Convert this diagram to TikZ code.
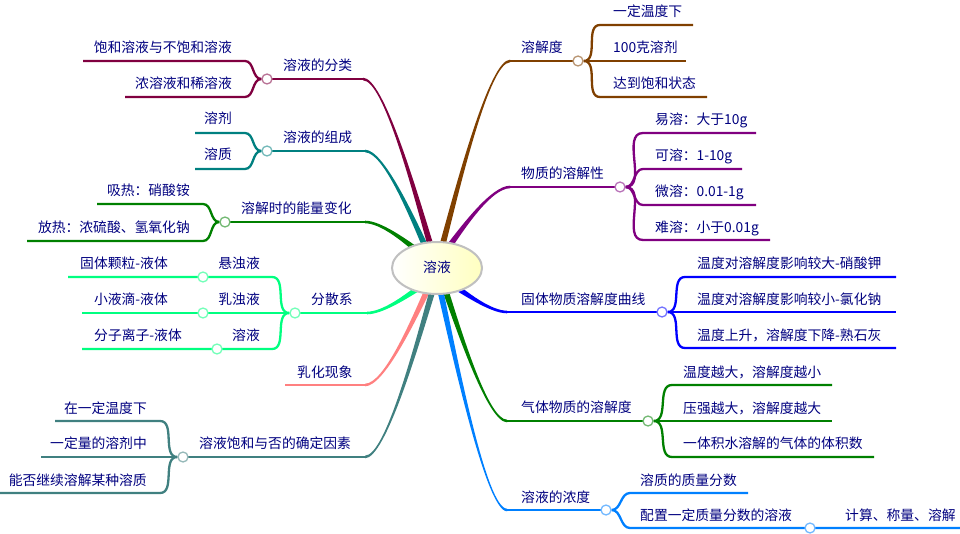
\documentclass[tikz,border=0pt]{standalone}
\usepackage{fontspec}
\usetikzlibrary{calc,shapes.geometric}
\newfontfamily\cjk{Noto Sans CJK SC}
\definecolor{cNavy}{RGB}{0,0,128}
\definecolor{cMaroon}{RGB}{128,0,64}
\definecolor{cTeal}{RGB}{0,128,128}
\definecolor{cGreen}{RGB}{0,128,0}
\definecolor{cSpring}{RGB}{0,255,128}
\definecolor{cSalmon}{RGB}{255,128,128}
\definecolor{cTealGray}{RGB}{64,128,128}
\definecolor{cBrown}{RGB}{128,64,0}
\definecolor{cPurple}{RGB}{128,0,128}
\definecolor{cBlue}{RGB}{0,0,255}
\definecolor{cSky}{RGB}{0,128,255}
\definecolor{cRootBorder}{RGB}{192,192,192}
\definecolor{cRootFill}{RGB}{255,255,192}
\pgfdeclarelayer{bg}
\pgfsetlayers{bg,main}
\tikzset{
  txt/.style={font=\cjk\fontsize{13.8}{16}\selectfont, text=cNavy, inner sep=0pt, text height=12pt, text depth=2pt},
  knob/.style={circle, minimum size=10pt, inner sep=0pt, fill=white, draw=#1!55!white, line width=1.3pt},
  mainline/.style={draw=#1, line width=2.6pt},
  subline/.style={draw=#1, line width=2.3pt},
}
\newcommand\mmcurve[3]{%
  \path let \p1=(#1), \p2=(#2) in
    ({\x1+0.25*(\x2-\x1)},{\y1+0.35*(\y2-\y1)}) coordinate (#1c)
    ({\x2+0.3*(\x1-\x2)},{\y2}) coordinate (#2c);
  \fill[#3] ($(#1)!3pt!90:(#1c)$) .. controls ($(#1c)!2pt!-90:(#1)$) and ($(#2c)!1.3pt!90:(#2)$) .. ($(#2)!1.3pt!-90:(#2c)$)
    -- ($(#2)!1.3pt!90:(#2c)$) .. controls ($(#2c)!1.3pt!-90:(#2)$) and ($(#1c)!2pt!90:(#1)$) .. ($(#1)!3pt!-90:(#1c)$) -- cycle;
}
\begin{document}
\begin{tikzpicture}[x=1pt,y=-1pt]
\useasboundingbox (0,0) rectangle (960,534);
% root
\node[ellipse, minimum width=90pt, minimum height=52pt, draw=cRootBorder, line width=2pt, left color=white, right color=cRootFill, txt] (root) at (437,268) {溶液};

% ---------- left side ----------
% 1 溶液的分类
\node[knob=cMaroon] (k1) at (267,79) {};
\node[txt, anchor=west] (n1) at (283,66) {溶液的分类};
\node[txt, anchor=east] (n1a) at (232,48) {饱和溶液与不饱和溶液};
\node[txt, anchor=east] (n1b) at (232,84) {浓溶液和稀溶液};
\coordinate (s1) at (431,247); \coordinate (e1) at (363,79);
\coordinate (a1) at (245,61); \coordinate (a1e) at (83,61);
\coordinate (b1) at (245,97); \coordinate (b1e) at (125,97);
% 2 溶液的组成
\node[knob=cTeal] (k2) at (267,151) {};
\node[txt, anchor=west] (n2) at (283,138) {溶液的组成};
\node[txt, anchor=east] (n2a) at (232,119) {溶剂};
\node[txt, anchor=east] (n2b) at (232,155) {溶质};
\coordinate (s2) at (426,248); \coordinate (e2) at (365,151);
\coordinate (a2) at (245,133); \coordinate (a2e) at (195,133);
\coordinate (b2) at (245,169); \coordinate (b2e) at (195,169);
% 3 溶解时的能量变化
\node[knob=cGreen] (k3) at (225,222) {};
\node[txt, anchor=west] (n3) at (241,209) {溶解时的能量变化};
\node[txt, anchor=east] (n3a) at (190,191) {吸热：硝酸铵};
\node[txt, anchor=east] (n3b) at (190,228) {放热：浓硫酸、氢氧化钠};
\coordinate (s3) at (418,251); \coordinate (e3) at (365,222);
\coordinate (a3) at (203,204); \coordinate (a3e) at (97,204);
\coordinate (b3) at (203,241); \coordinate (b3e) at (27,241);
% 4 分散系
\node[knob=cSpring] (k4) at (295,313) {};
\node[txt, anchor=west] (n4) at (311,300) {分散系};
\node[knob=cSpring] (k4a) at (203,277) {};
\node[knob=cSpring] (k4b) at (203,313) {};
\node[knob=cSpring] (k4c) at (217,349) {};
\node[txt, anchor=east] (n4a) at (260,264) {悬浊液};
\node[txt, anchor=east] (n4b) at (260,300) {乳浊液};
\node[txt, anchor=east] (n4c) at (260,335) {溶液};
\node[txt, anchor=east] (n4aa) at (168,264) {固体颗粒-液体};
\node[txt, anchor=east] (n4bb) at (168,300) {小液滴-液体};
\node[txt, anchor=east] (n4cc) at (182,335) {分子离子-液体};
\coordinate (s4) at (420,287); \coordinate (e4) at (367,313);
\coordinate (a4) at (272,277); \coordinate (a4e) at (68,277);
\coordinate (b4e) at (82,313);
\coordinate (c4) at (272,349); \coordinate (c4e) at (82,349);
% 5 乳化现象
\node[txt, anchor=west] (n5) at (297,372) {乳化现象};
\coordinate (s5) at (428,289); \coordinate (e5) at (365,385); \coordinate (f5) at (285,385);
% 6 溶液饱和与否的确定因素
\node[knob=cTealGray] (k6) at (183,457) {};
\node[txt, anchor=west] (n6) at (199,443) {溶液饱和与否的确定因素};
\node[txt, anchor=east] (n6a) at (147,408) {在一定温度下};
\node[txt, anchor=east] (n6b) at (147,443) {一定量的溶剂中};
\node[txt, anchor=east] (n6c) at (147,480) {能否继续溶解某种溶质};
\coordinate (s6) at (433,289); \coordinate (e6) at (365,457);
\coordinate (a6) at (160,421); \coordinate (a6e) at (55,421);
\coordinate (b6e) at (41,457);
\coordinate (c6) at (160,493); \coordinate (c6e) at (0,493);

% ---------- right side ----------
% 7 溶解度
\node[knob=cBrown] (k7) at (578,61) {};
\node[txt, anchor=west] (n7) at (521,48) {溶解度};
\node[txt, anchor=west] (n7a) at (613,12) {一定温度下};
\node[txt, anchor=west] (n7b) at (613,48) {100克溶剂};
\node[txt, anchor=west] (n7c) at (613,84) {达到饱和状态};
\coordinate (s7) at (442,247); \coordinate (e7) at (510,61);
\coordinate (a7) at (600,25); \coordinate (a7e) at (693,25);
\coordinate (b7e) at (686,61);
\coordinate (c7) at (600,97); \coordinate (c7e) at (707,97);
% 8 物质的溶解性
\node[knob=cPurple] (k8) at (620,187) {};
\node[txt, anchor=west] (n8) at (521,174) {物质的溶解性};
\node[txt, anchor=west] (n8a) at (655,120) {易溶：大于10g};
\node[txt, anchor=west] (n8b) at (655,156) {可溶：1-10g};
\node[txt, anchor=west] (n8c) at (655,192) {微溶：0.01-1g};
\node[txt, anchor=west] (n8d) at (655,228) {难溶：小于0.01g};
\coordinate (s8) at (448,248); \coordinate (e8) at (510,187);
\coordinate (a8) at (643,133); \coordinate (a8e) at (756,133);
\coordinate (b8) at (643,169); \coordinate (b8e) at (742,169);
\coordinate (c8) at (643,205); \coordinate (c8e) at (756,205);
\coordinate (d8) at (643,240); \coordinate (d8e) at (770,240);
% 9 固体物质溶解度曲线
\node[knob=cBlue] (k9) at (662,312) {};
\node[txt, anchor=west] (n9) at (521,300) {固体物质溶解度曲线};
\node[txt, anchor=west] (n9a) at (697,264) {温度对溶解度影响较大-硝酸钾};
\node[txt, anchor=west] (n9b) at (697,300) {温度对溶解度影响较小-氯化钠};
\node[txt, anchor=west] (n9c) at (697,335) {温度上升，溶解度下降-熟石灰};
\coordinate (s9) at (456,287); \coordinate (e9) at (507,312);
\coordinate (a9) at (685,277); \coordinate (a9e) at (896,277);
\coordinate (b9e) at (896,312);
\coordinate (c9) at (685,348); \coordinate (c9e) at (896,348);
% 10 气体物质的溶解度
\node[knob=cGreen] (k10) at (648,421) {};
\node[txt, anchor=west] (n10) at (521,407) {气体物质的溶解度};
\node[txt, anchor=west] (n10a) at (683,372) {温度越大，溶解度越小};
\node[txt, anchor=west] (n10b) at (683,408) {压强越大，溶解度越大};
\node[txt, anchor=west] (n10c) at (683,443) {一体积水溶解的气体的体积数};
\coordinate (s10) at (445,289); \coordinate (e10) at (507,421);
\coordinate (a10) at (672,385); \coordinate (a10e) at (832,385);
\coordinate (b10e) at (832,421);
\coordinate (c10) at (672,457); \coordinate (c10e) at (874,457);
% 11 溶液的浓度
\node[knob=cSky] (k11) at (606,510) {};
\node[txt, anchor=west] (n11) at (521,497) {溶液的浓度};
\node[txt, anchor=west] (n11a) at (640,480) {溶质的质量分数};
\node[txt, anchor=west] (n11b) at (640,515) {配置一定质量分数的溶液};
\node[knob=cSky] (k11b) at (810,528) {};
\node[txt, anchor=west] (n11bb) at (845,515) {计算、称量、溶解};
\coordinate (s11) at (440,289); \coordinate (e11) at (507,510);
\coordinate (a11) at (630,493); \coordinate (a11e) at (748,493);
\coordinate (b11) at (630,528); \coordinate (b11e) at (960,528);

\begin{pgfonlayer}{bg}
\fill[white] (0,0) rectangle (960,534);
% left
\mmcurve{s1}{e1}{cMaroon}
\draw[mainline=cMaroon] (e1) -- (k1.center);
\draw[subline=cMaroon] (k1.west) to[out=180,in=0] (a1) -- (a1e);
\draw[subline=cMaroon] (k1.west) to[out=180,in=0] (b1) -- (b1e);

\mmcurve{s2}{e2}{cTeal}
\draw[mainline=cTeal] (e2) -- (k2.center);
\draw[subline=cTeal] (k2.west) to[out=180,in=0] (a2) -- (a2e);
\draw[subline=cTeal] (k2.west) to[out=180,in=0] (b2) -- (b2e);

\mmcurve{s3}{e3}{cGreen}
\draw[mainline=cGreen] (e3) -- (k3.center);
\draw[subline=cGreen] (k3.west) to[out=180,in=0] (a3) -- (a3e);
\draw[subline=cGreen] (k3.west) to[out=180,in=0] (b3) -- (b3e);

\mmcurve{s4}{e4}{cSpring}
\draw[mainline=cSpring] (e4) -- (k4.center);
\draw[subline=cSpring] (k4.west) to[out=180,in=0] (a4) -- (k4a.center) -- (a4e);
\draw[subline=cSpring] (k4.west) -- (k4b.center) -- (b4e);
\draw[subline=cSpring] (k4.west) to[out=180,in=0] (c4) -- (k4c.center) -- (c4e);

\mmcurve{s5}{e5}{cSalmon}
\draw[mainline=cSalmon] (e5) -- (f5);

\mmcurve{s6}{e6}{cTealGray}
\draw[mainline=cTealGray] (e6) -- (k6.center);
\draw[subline=cTealGray] (k6.west) to[out=180,in=0] (a6) -- (a6e);
\draw[subline=cTealGray] (k6.west) -- (b6e);
\draw[subline=cTealGray] (k6.west) to[out=180,in=0] (c6) -- (c6e);

% right
\mmcurve{s7}{e7}{cBrown}
\draw[mainline=cBrown] (e7) -- (k7.center);
\draw[subline=cBrown] (k7.east) to[out=0,in=180] (a7) -- (a7e);
\draw[subline=cBrown] (k7.east) -- (b7e);
\draw[subline=cBrown] (k7.east) to[out=0,in=180] (c7) -- (c7e);

\mmcurve{s8}{e8}{cPurple}
\draw[mainline=cPurple] (e8) -- (k8.center);
\draw[subline=cPurple] (k8.east) to[out=0,in=180] (a8) -- (a8e);
\draw[subline=cPurple] (k8.east) to[out=0,in=180] (b8) -- (b8e);
\draw[subline=cPurple] (k8.east) to[out=0,in=180] (c8) -- (c8e);
\draw[subline=cPurple] (k8.east) to[out=0,in=180] (d8) -- (d8e);

\mmcurve{s9}{e9}{cBlue}
\draw[mainline=cBlue] (e9) -- (k9.center);
\draw[subline=cBlue] (k9.east) to[out=0,in=180] (a9) -- (a9e);
\draw[subline=cBlue] (k9.east) -- (b9e);
\draw[subline=cBlue] (k9.east) to[out=0,in=180] (c9) -- (c9e);

\mmcurve{s10}{e10}{cGreen}
\draw[mainline=cGreen] (e10) -- (k10.center);
\draw[subline=cGreen] (k10.east) to[out=0,in=180] (a10) -- (a10e);
\draw[subline=cGreen] (k10.east) -- (b10e);
\draw[subline=cGreen] (k10.east) to[out=0,in=180] (c10) -- (c10e);

\mmcurve{s11}{e11}{cSky}
\draw[mainline=cSky] (e11) -- (k11.center);
\draw[subline=cSky] (k11.east) to[out=0,in=180] (a11) -- (a11e);
\draw[subline=cSky] (k11.east) to[out=0,in=180] (b11) -- (k11b.center) -- (b11e);
\end{pgfonlayer}
\end{tikzpicture}
\end{document}
